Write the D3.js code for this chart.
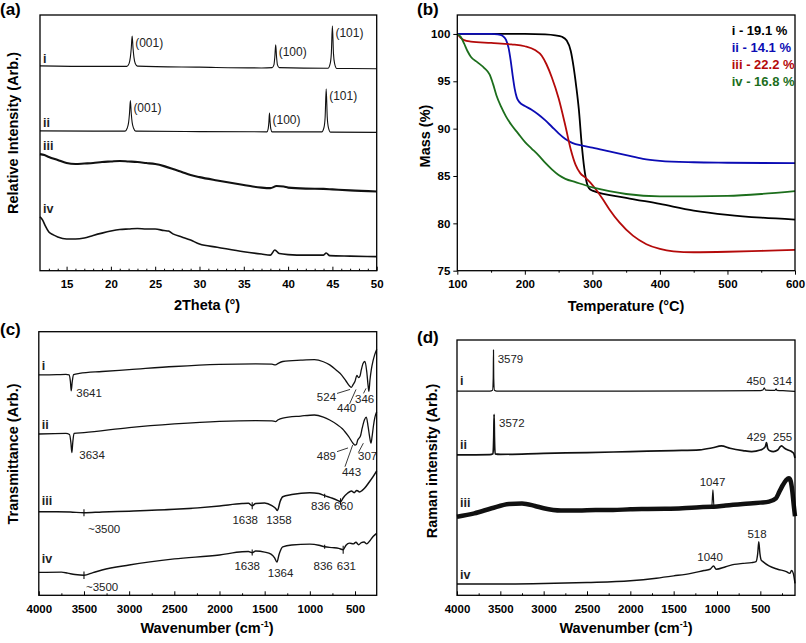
<!DOCTYPE html>
<html><head><meta charset="utf-8">
<script src="https://cdn.jsdelivr.net/npm/d3@7"></script>
<style>body{margin:0;background:#fff}svg{display:block}</style>
</head><body><script>
// ---------------- DATA ----------------
// (a) XRD: [2theta, relative intensity (arb., 0-100 panel scale)]
const xrdTicks = [15,20,25,30,35,40,45,50];
const xrdI = [[12,80.1],[18,79.9],[21.8,79.9],[22.05,81],[22.2,83.5],[22.3,87],[22.4,91.8],[22.5,87],[22.6,83.5],[22.75,81],[23.0,80],[30,79.6],[37,79.3],[38.2,79.4],[38.4,80.5],[38.5,83.5],[38.6,88.3],[38.7,83.5],[38.8,80.5],[39.0,79.4],[44.5,79.2],[44.75,81],[44.88,85],[45.0,95.8],[45.12,85],[45.25,81],[45.5,79.1],[50,79.0]];
const xrdII = [[12,54.7],[18,54.6],[21.6,54.6],[21.85,55.8],[22.0,58],[22.1,61.5],[22.2,66.5],[22.3,61.5],[22.4,58],[22.55,55.8],[22.8,54.6],[30,54.4],[37.6,54.3],[37.75,55.5],[37.83,58],[37.9,61.7],[37.97,58],[38.05,55.5],[38.2,54.3],[43.8,54.3],[44.05,56],[44.18,60],[44.3,71.1],[44.42,60],[44.55,56],[44.8,54.2],[50,54.1]];
const xrdIII = [[12,45.6],[12.5,45.2],[13,44.5],[14,43.3],[15,42.1],[16,41.7],[17,41.9],[18,42.1],[19,42.5],[20,42.7],[21,42.9],[22,42.7],[23,42.5],[24,42.1],[25,41.7],[26,40.9],[27,39.8],[28,38.6],[29,37.4],[30,36.6],[32,35.3],[34,34.1],[35,33.5],[36,32.9],[37,32.5],[38,32.3],[38.7,33.1],[39.5,32.9],[40,32.5],[42,32.1],[44,32.0],[45,31.8],[47,31.4],[50,31.0]];
const xrdIV = [[12,21.1],[12.3,19.8],[12.6,17.5],[13,15.1],[13.5,14.0],[14,13.2],[15,12.4],[16,12.4],[17,12.8],[18,13.8],[19,14.7],[20,15.5],[21,16.1],[22,16.3],[23,16.5],[24,16.3],[25,16.3],[26,15.7],[26.5,15.5],[27,14.4],[28,13.2],[29,12.0],[30,10.4],[32,9.2],[35,7.4],[37,6.5],[38,6.1],[38.5,8.1],[39,6.7],[40,6.3],[42,6.1],[44,6.1],[44.3,6.9],[44.7,5.9],[47,5.7],[50,5.5]];
const xrdPeaksI = [["(001)",22.4,91.8],["(100)",38.6,88.3],["(101)",45.0,95.8]];
const xrdPeaksII = [["(001)",22.2,66.5],["(100)",37.9,61.7],["(101)",44.3,71.1]];

// (b) TGA: [temperature °C, mass %]
const tempTicks = [100,200,300,400,500,600];
const massTicks = [75,80,85,90,95,100];
const tgaI = [[100,100],[150,100],[200,100],[230,99.95],[245,99.85],[255,99.7],[262,99.3],[268,98.2],[272,96.6],[276,94.5],[280,92],[284,88.5],[288,85.8],[292,84.2],[295,83.7],[300,83.45],[350,82.7],[400,82.05],[450,81.35],[500,80.9],[550,80.6],[600,80.4]];
const tgaII = [[100,100],[150,100],[160,99.95],[167,99.8],[172,99.4],[176,98.5],[179,97.2],[182,95.6],[185,94.2],[188,93.3],[192,92.8],[200,92.4],[210,92.0],[220,91.5],[230,90.9],[240,90.2],[250,89.5],[260,88.9],[270,88.5],[285,88.2],[300,88.0],[325,87.6],[350,87.2],[375,86.8],[400,86.6],[450,86.45],[500,86.4],[600,86.35]];
const tgaIII = [[100,100],[105,99.6],[110,99.35],[120,99.2],[150,99.05],[180,98.9],[200,98.7],[215,98.3],[225,97.7],[232,96.8],[240,95.4],[250,93.2],[260,90.3],[268,87.8],[275,86.2],[282,85.3],[290,84.8],[297,84.3],[305,83.6],[315,82.6],[325,81.5],[340,80.1],[360,78.7],[380,77.8],[400,77.3],[420,77.05],[450,76.95],[500,77.0],[550,77.1],[600,77.2]];
const tgaIV = [[100,100],[105,99.7],[110,99.0],[115,98.2],[120,97.6],[130,97.0],[140,96.4],[148,95.7],[153,94.7],[158,93.5],[165,92.3],[172,91.3],[180,90.4],[190,89.5],[200,88.6],[210,87.9],[220,87.2],[230,86.4],[240,85.7],[250,85.1],[260,84.7],[275,84.35],[300,83.8],[325,83.4],[350,83.1],[400,82.85],[450,82.85],[500,82.9],[550,83.1],[600,83.4]];
const tgaLegend = ["i - 19.1 %","ii - 14.1 %","iii - 22.2 %","iv - 16.8 %"];

// (c) FTIR: [wavenumber cm-1, transmittance (arb.)]
const wnTicks = [4000,3500,3000,2500,2000,1500,1000,500];
const ftI = [[4000,83.6],[3800,83.7],[3700,83.8],[3665,83.6],[3650,81],[3641,77.6],[3630,81],[3615,83.7],[3550,84.2],[3300,84.9],[3000,85.6],[2500,86.8],[2000,87.6],[1600,87.8],[1420,87.7],[1380,87.4],[1350,88.0],[1300,88.7],[1100,89.2],[950,89.4],[850,88.6],[780,87.4],[700,85.2],[650,83.6],[600,81.3],[560,79.4],[540,78.9],[520,80.0],[500,81.2],[480,83.4],[460,82.6],[445,83.2],[430,85.6],[410,88.0],[390,88.7],[370,84.8],[355,79.5],[346,77.4],[335,81.5],[320,85.5],[300,89.0],[280,91.5],[260,93.3]];
const ftII = [[4000,61.2],[3700,61.4],[3660,61.0],[3645,58],[3634,54.1],[3624,58],[3610,61.4],[3500,61.7],[3000,63.6],[2500,65.0],[2000,66.0],[1600,66.3],[1420,66.2],[1380,65.9],[1350,66.6],[1300,67.2],[1100,68.0],[950,68.4],[850,67.6],[780,66.5],[700,64.8],[640,63.2],[570,60.2],[520,57.6],[500,57.0],[485,57.2],[470,58.9],[455,59.6],[440,60.4],[420,63.5],[395,66.6],[375,67.6],[355,64.0],[340,60.5],[323,57.7],[310,60.5],[295,64.5],[280,67.5],[260,69.6]];
const ftIII = [[4000,31.7],[3800,31.7],[3650,31.6],[3500,31.3],[3300,31.6],[3000,31.9],[2500,32.6],[2000,33.9],[1750,34.8],[1680,34.9],[1638,34.0],[1600,34.8],[1500,35.0],[1420,34.0],[1380,33.0],[1358,32.2],[1330,35.5],[1300,37.4],[1200,38.2],[1000,38.9],[900,38.6],[836,37.8],[750,36.8],[680,35.8],[660,35.5],[630,37.0],[580,38.8],[540,39.6],[510,38.9],[480,39.8],[450,39.2],[420,39.8],[390,40.8],[350,42.6],[300,45.0],[260,47.2]];
const ftIV = [[4000,8.7],[3750,8.8],[3680,8.4],[3600,7.9],[3500,7.6],[3400,8.6],[3300,9.6],[3000,11.5],[2500,13.8],[2000,15.3],[1750,16.5],[1680,16.6],[1638,16.2],[1600,16.8],[1500,16.4],[1430,15.6],[1390,14.2],[1364,12.6],[1340,15.6],[1300,18.4],[1200,19.1],[1000,19.4],[900,19.0],[836,18.4],[750,18.1],[680,17.8],[631,17.3],[600,19.0],[560,19.8],[520,19.5],[490,20.1],[460,19.2],[430,20.0],[400,20.2],[370,19.5],[340,20.5],[300,22.3],[260,23.5]];

// (d) Raman: [wavenumber cm-1, intensity (arb.)]
const raI = [[4000,80.0],[3620,80.0],[3590,80.3],[3582,85],[3579,96.1],[3576,85],[3568,80.3],[3540,80.0],[2000,80.0],[1000,80.1],[500,80.2],[470,80.4],[455,81.3],[440,80.4],[330,80.3],[318,80.9],[310,80.3],[200,80.1],[100,79.9]];
const raII = [[4000,55.0],[3620,55.1],[3585,55.4],[3576,62],[3572,70.9],[3568,62],[3560,55.4],[3500,55.2],[3000,55.6],[2500,55.9],[2000,56.3],[1500,56.7],[1200,57.0],[1050,57.8],[950,58.5],[850,57.6],[700,56.7],[600,56.3],[500,56.9],[460,57.6],[440,58.5],[429,59.8],[415,57.5],[390,56.6],[350,56.3],[300,56.9],[270,58.2],[255,58.5],[220,57.6],[180,56.9],[140,56.3],[115,55.6],[100,53.8]];
const raIII = [[4000,30.8],[3800,32.1],[3600,34.1],[3400,35.8],[3250,36.0],[3100,35.0],[3000,34.1],[2800,33.2],[2600,33.2],[2400,33.4],[2200,33.4],[2000,33.7],[1800,33.8],[1600,33.9],[1400,34.1],[1200,34.5],[1060,34.7],[1047,41.3],[1035,34.7],[900,35.2],[700,35.8],[500,36.3],[400,36.7],[320,38.0],[280,40.6],[240,43.2],[200,45.2],[170,45.8],[150,44.8],[130,40.5],[115,35.5],[100,31.0]];
const raIV = [[4000,4.4],[3500,4.4],[3000,4.6],[2500,5.0],[2000,5.7],[1700,6.7],[1500,7.6],[1300,8.6],[1150,9.7],[1080,10.2],[1040,11.5],[1010,10.2],[900,11.2],[800,12.1],[700,12.5],[600,12.8],[550,13.2],[530,16.4],[518,21.0],[505,16.4],[490,13.8],[470,13.2],[400,11.5],[300,10.2],[200,9.3],[160,8.6],[140,9.7],[120,8.6],[100,4.7]];

// ---------------- LAYOUT ----------------
const FONT = '"Liberation Sans", Arial, Helvetica, sans-serif';
const W = 806, H = 643;
const svg = d3.select("body").append("svg").attr("width", W).attr("height", H)
  .attr("font-family", FONT);

const boxA = {x0:40, x1:376.7, y0:15, y1:270.7};
const boxB = {x0:457.3, x1:795, y0:15, y1:270.7};
const boxC = {x0:38.8, x1:376.7, y0:331.7, y1:595.3};
const boxD = {x0:457, x1:795, y0:340, y1:595.3};

const xA = d3.scaleLinear().domain([12,50]).range([boxA.x0, boxA.x1]);
const yA = d3.scaleLinear().domain([0,100]).range([boxA.y1, boxA.y0]);
const xB = d3.scaleLinear().domain([100,600]).range([boxB.x0, boxB.x1]);
const yB = d3.scaleLinear().domain([75,102]).range([boxB.y1, boxB.y0]);
const xC = d3.scaleLinear().domain([4000,260]).range([boxC.x0, boxC.x1]);
const yC = d3.scaleLinear().domain([0,100]).range([boxC.y1, boxC.y0]);
const xD = d3.scaleLinear().domain([4000,100]).range([boxD.x0, boxD.x1]);
const yD = d3.scaleLinear().domain([0,100]).range([boxD.y1, boxD.y0]);

function drawLine(data, x, y, color, width) {
  const line = d3.line().x(d => x(d[0])).y(d => y(d[1])).curve(d3.curveMonotoneX);
  return svg.append("path").datum(data).attr("d", line).attr("fill","none")
    .attr("stroke", color).attr("stroke-width", width).attr("stroke-linejoin","round");
}
function frame(b) {
  svg.append("rect").attr("x", b.x0).attr("y", b.y0).attr("width", b.x1-b.x0).attr("height", b.y1-b.y0)
    .attr("fill","none").attr("stroke","#000").attr("stroke-width",1.3);
}
function xAxis(scale, b, majors, minors, inside, pad) {
  const g = svg.append("g").attr("transform", `translate(0,${b.y1})`)
    .call(d3.axisBottom(scale).tickValues(majors).tickSizeInner(inside ? -4 : 4).tickSizeOuter(0).tickPadding(pad).tickFormat(d3.format("d")));
  g.select(".domain").remove();
  g.attr("font-family", FONT).attr("font-size", 11.5).attr("font-weight","bold");
  g.selectAll("line").attr("stroke","#000");
  g.selectAll("text").attr("fill","#000");
  const m = svg.append("g").attr("transform", `translate(0,${b.y1})`)
    .call(d3.axisBottom(scale).tickValues(minors).tickSizeInner(inside ? -2 : 2).tickSizeOuter(0).tickFormat(""));
  m.select(".domain").remove();
}
function text(x, y, s, opts = {}) {
  const t = svg.append("text").attr("x", x).attr("y", y).text(s)
    .attr("font-size", opts.size || 11.5).attr("fill", opts.fill || "#000")
    .attr("font-weight", opts.weight || "normal").attr("text-anchor", opts.anchor || "start");
  if (opts.rotate) t.attr("transform", `rotate(-90,${x},${y})`).attr("dy","0.35em");
  return t;
}
function romanLabels(box, yScale, series, dys) {
  ["i","ii","iii","iv"].forEach((s,i) => {
    text(box.x0 + 3, yScale(series[i][0][1]) + dys[i], s, {weight:"bold", size:12.5, fill:"#222"});
  });
}

// ---------- Panel (a) ----------
drawLine(xrdI, xA, yA, "#111", 1.1);
drawLine(xrdII, xA, yA, "#111", 1.1);
drawLine(xrdIII, xA, yA, "#111", 2.1);
drawLine(xrdIV, xA, yA, "#111", 1.6);
xrdPeaksI.concat(xrdPeaksII).forEach(p => text(xA(p[1]) + 3, yA(p[2]) + 11.5, p[0], {fill:"#222", size:12}));
romanLabels(boxA, yA, [xrdI, xrdII, xrdIII, xrdIV], [-3,-4,-4,-4]);
frame(boxA);
xAxis(xA, boxA, xrdTicks, d3.range(13,50).filter(v => v % 5 !== 0), true, 9.4);
text(207, 310, "2Theta (°)", {weight:"bold", size:14.5, anchor:"middle"});
text(12.5, 133, "Relative Intensity (Arb.)", {weight:"bold", size:14.5, anchor:"middle", rotate:true});
text(0, 15, "(a)", {weight:"bold", size:17});

// ---------- Panel (b) ----------
const tgaColors = ["#000000","#0c0cb4","#b40a0a","#1c6e1c"];
[tgaI, tgaII, tgaIII, tgaIV].forEach((s,i) => drawLine(s, xB, yB, tgaColors[i], 1.8));
frame(boxB);
xAxis(xB, boxB, tempTicks, [150,250,350,450,550], false, 5);
{
  const g = svg.append("g").attr("transform", `translate(${boxB.x0},0)`)
    .call(d3.axisLeft(yB).tickValues(massTicks).tickSizeInner(4).tickSizeOuter(0).tickPadding(3));
  g.select(".domain").remove();
  g.attr("font-family", FONT).attr("font-size", 11.5).attr("font-weight","bold");
  g.selectAll("text").attr("fill","#000");
}
tgaLegend.forEach((s,i) => text(731.7, 34.5 + i*17, s, {weight:"bold", size:13, fill:tgaColors[i]}));
text(626, 311, "Temperature (°C)", {weight:"bold", size:14.5, anchor:"middle"});
text(425, 136, "Mass (%)", {weight:"bold", size:14.5, anchor:"middle", rotate:true});
text(417, 15, "(b)", {weight:"bold", size:17});

// ---------- Panel (c) ----------
drawLine(ftI, xC, yC, "#111", 1.3);
drawLine(ftII, xC, yC, "#111", 1.3);
drawLine(ftIII, xC, yC, "#111", 1.5);
drawLine(ftIV, xC, yC, "#111", 1.4);
romanLabels(boxC, yC, [ftI, ftII, ftIII, ftIV], [-5,-5,-7,-9.5]);
const valAt = (s, wn) => s.find(d => d[0] === wn)[1];
[[ftI,"3641",3641,5,6],[ftII,"3634",3634,7.4,6]].forEach(a => {
  text(xC(a[2]) + a[3], yC(valAt(a[0],a[2])) + a[4], a[1], {fill:"#222"});
});
// labels with leader lines: [text, wn, tipValue, ex, lx, ly, tx, ty, anchor]
const leadersC = [
  ["524",524,78.1,-2.8,-13,4,-14,11.5,"end"],
  ["440",440,78.1,-4.4,-6.5,14.5,-19,23,"start"],
  ["346",346,78.5,-2.9,-2.5,5,-11,15,"start"],
  ["489",489,55.9,-8,-11,3.7,-12,12,"end"],
  ["443",443,57.0,-7.5,-7.7,21.7,-10.7,31,"start"],
  ["307",307,57.7,-9.1,-5,9.4,-5.3,16.7,"start"]
];
leadersC.forEach(a => {
  const tx = xC(a[1]) + a[3], ty = yC(a[2]);
  svg.append("line").attr("x1", tx).attr("y1", ty).attr("x2", tx + a[4]).attr("y2", ty + a[5])
    .attr("stroke","#222").attr("stroke-width",0.9);
  text(tx + a[6], ty + a[7], a[0], {fill:"#222", anchor:a[8]});
});
// tick-marked bands: [series, text, wn, half-len, dx, dy, anchor]
const marksC = [
  [ftIII,"~3500",3500,3.5,4,20,"start"],[ftIII,"1638",1638,3.5,-7,18.3,"middle"],[ftIII,"1358",1358,0,1.5,13.6,"middle"],
  [ftIII,"836",836,2,-4,14.3,"middle"],[ftIII,"660",660,3.5,3,8.3,"middle"],
  [ftIV,"~3500",3500,3.7,2,15.7,"start"],[ftIV,"1638",1638,3,-5,17.4,"middle"],[ftIV,"1364",1364,0,3.6,14.9,"middle"],
  [ftIV,"836",836,2,-1.5,23,"middle"],[ftIV,"631",631,4,3.2,20.3,"middle"]
];
marksC.forEach(a => {
  const px = xC(a[2]), py = yC(valAt(a[0], a[2]));
  if (a[3] > 0) svg.append("line").attr("x1", px).attr("x2", px).attr("y1", py - a[3]).attr("y2", py + a[3])
    .attr("stroke","#111").attr("stroke-width",1.1);
  text(px + a[4], py + a[5], a[1], {fill:"#222", anchor:a[6]});
});
frame(boxC);
xAxis(xC, boxC, wnTicks, [3750,3250,2750,2250,1750,1250,750], true, 9.5);
{
  const t = text(207, 633, "Wavenumber (cm", {weight:"bold", size:14.5, anchor:"middle"});
  t.append("tspan").attr("dy",-6).attr("font-size",9).text("-1");
  t.append("tspan").attr("dy",6).text(")");
}
text(12.5, 454, "Transmittance (Arb.)", {weight:"bold", size:14.5, anchor:"middle", rotate:true});
text(0, 335, "(c)", {weight:"bold", size:17});

// ---------- Panel (d) ----------
drawLine(raI, xD, yD, "#111", 1.2);
drawLine(raII, xD, yD, "#111", 1.7);
drawLine(raIII.filter(d => d[0] !== 1047), xD, yD, "#111", 4.5);
drawLine(raIII, xD, yD, "#111", 1.2);
drawLine(raIV, xD, yD, "#111", 1.4);
romanLabels(boxD, yD, [raI, raII, raIII, raIV], [-6,-6,-10,-5]);
// [series, text, wn, dx, dy, anchor]
const peaksD = [
  [raI,"3579",3579,4.2,12.7,"start"],[raI,"450",455,1.4,-2.7,"end"],[raI,"314",318,-3.4,-3.8,"start"],
  [raII,"3572",3572,5,12.4,"start"],[raII,"429",429,-0.5,-1.6,"end"],[raII,"255",255,-8.5,-5,"start"],
  [raIII,"1047",1047,-0.4,-4,"middle"],[raIV,"1040",1040,-3.5,-5,"middle"],[raIV,"518",518,-1.8,-4,"middle"]
];
peaksD.forEach(a => text(xD(a[2]) + a[3], yD(valAt(a[0], a[2])) + a[4], a[1], {fill:"#222", anchor:a[5]}));
frame(boxD);
xAxis(xD, boxD, wnTicks, [3750,3250,2750,2250,1750,1250,750,250], true, 9.5);
{
  const t = text(626, 633, "Wavenumber (cm", {weight:"bold", size:14.5, anchor:"middle"});
  t.append("tspan").attr("dy",-6).attr("font-size",9).text("-1");
  t.append("tspan").attr("dy",6).text(")");
}
text(432, 461, "Raman intensity (Arb.)", {weight:"bold", size:14.5, anchor:"middle", rotate:true});
text(417, 343, "(d)", {weight:"bold", size:17});
</script></body></html>
